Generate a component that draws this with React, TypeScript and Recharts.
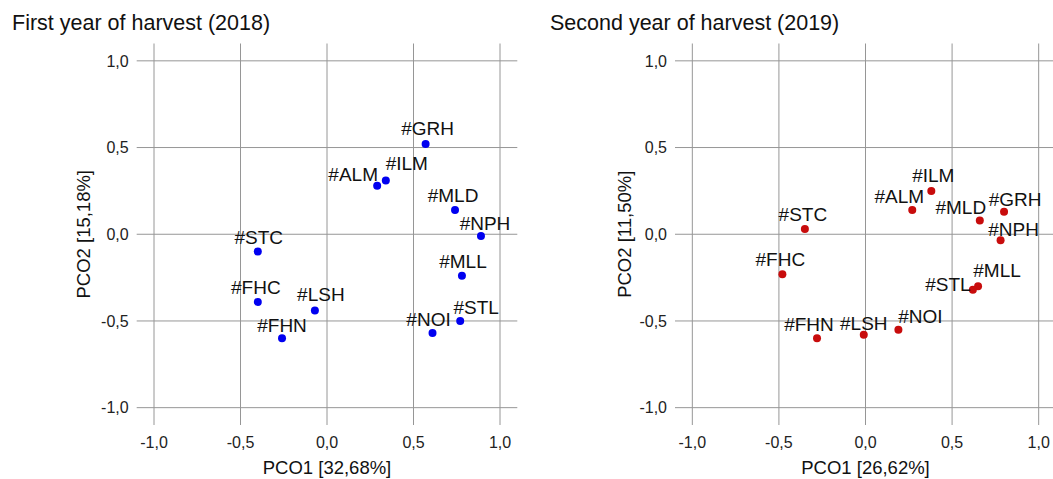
import React from "react";
import { ScatterChart, Scatter, XAxis, YAxis, CartesianGrid } from "recharts";

// PCO scores per site
const names2018 = ["#GRH", "#ILM", "#ALM", "#MLD", "#NPH", "#STC", "#MLL", "#FHC", "#LSH", "#STL", "#FHN", "#NOI"];
const pco1_2018 = [0.57, 0.34, 0.29, 0.74, 0.89, -0.4, 0.78, -0.4, -0.07, 0.77, -0.26, 0.61];
const pco2_2018 = [0.52, 0.31, 0.28, 0.14, -0.01, -0.1, -0.24, -0.39, -0.44, -0.5, -0.6, -0.57];

const names2019 = ["#ILM", "#ALM", "#GRH", "#MLD", "#STC", "#NPH", "#FHC", "#MLL", "#STL", "#NOI", "#LSH", "#FHN"];
const pco1_2019 = [0.38, 0.27, 0.8, 0.66, -0.35, 0.78, -0.48, 0.65, 0.62, 0.19, -0.01, -0.28];
const pco2_2019 = [0.25, 0.14, 0.13, 0.08, 0.03, -0.035, -0.23, -0.3, -0.32, -0.55, -0.58, -0.6];

const axisTicks = [-1, -0.5, 0, 0.5, 1];

// label nudges [dx, dy] so the site names don't collide
const shift2018: Record<string, [number, number]> = {
  "#GRH": [2, -9], "#ILM": [21, -10], "#ALM": [-24, -5], "#MLD": [-2, -8],
  "#NPH": [4, -6], "#STC": [1, -8], "#MLL": [1, -8], "#FHC": [-2, -8],
  "#LSH": [6, -10], "#STL": [16, -7], "#FHN": [0, -6], "#NOI": [-4, -7],
};
const shift2019: Record<string, [number, number]> = {
  "#ILM": [2, -9], "#ALM": [-13, -7], "#GRH": [11, -6], "#MLD": [-19, -6],
  "#STC": [-2, -8], "#NPH": [13, -4], "#FHC": [-2, -8], "#MLL": [19, -9],
  "#STL": [-25, 1], "#NOI": [22, -7], "#LSH": [0, -5], "#FHN": [-8, -7],
};

const FONT = '"Liberation Sans", Arial, sans-serif';
const fmt = (v: number) => v.toFixed(1).replace(".", ",");

const toRows = (names: string[], xs: number[], ys: number[]) =>
  names.map((name, i) => ({ name, x: xs[i], y: ys[i] }));

const makeShape = (color: string, shifts: Record<string, [number, number]>) => (p: any) => {
  const { cx, cy, payload } = p;
  const s = shifts[payload.name] || [0, -8];
  return (
    <g>
      <circle cx={cx} cy={cy} r={4} fill={color} />
      <text x={cx + s[0]} y={cy + s[1]} textAnchor="middle" fontSize={19} fill="#111" fontFamily={FONT}>
        {payload.name}
      </text>
    </g>
  );
};

interface PanelProps {
  data: { name: string; x: number; y: number }[];
  color: string;
  shifts: Record<string, [number, number]>;
  xLabel: string;
  yLabel: string;
  yAxisWidth: number;
  rightMargin: number;
  yLabelGap: number;
}

const Panel: React.FC<PanelProps> = ({ data, color, shifts, xLabel, yLabel, yAxisWidth, rightMargin, yLabelGap }) => (
  <ScatterChart width={530} height={479} margin={{ top: 43.5, right: rightMargin, bottom: 0, left: 0 }}>
    <CartesianGrid stroke="#969696" strokeWidth={1} syncWithTicks />
    <XAxis
      type="number"
      dataKey="x"
      domain={[-1.1, 1.1]}
      ticks={axisTicks}
      tickFormatter={fmt}
      axisLine={false}
      tickLine={false}
      tickMargin={6}
      height={54}
      tick={{ fontSize: 16, fill: "#222", fontFamily: FONT }}
      allowDataOverflow
      label={(p: any) => {
        const vb = p.viewBox;
        return (
          <text x={vb.x + vb.width / 2} y={474} textAnchor="middle" fontSize={18.5} fill="#111" fontFamily={FONT}>
            {xLabel}
          </text>
        );
      }}
    />
    <YAxis
      type="number"
      dataKey="y"
      domain={[-1.1, 1.1]}
      ticks={axisTicks}
      tickFormatter={fmt}
      axisLine={false}
      tickLine={false}
      width={yAxisWidth}
      tick={{ fontSize: 16, fill: "#222", fontFamily: FONT }}
      allowDataOverflow
      label={(p: any) => {
        const vb = p.viewBox;
        const lx = vb.x + vb.width - yLabelGap;
        const ly = vb.y + vb.height / 2;
        return (
          <text x={lx} y={ly} transform={`rotate(-90, ${lx}, ${ly})`} textAnchor="middle" fontSize={18.5} fill="#111" fontFamily={FONT}>
            {yLabel}
          </text>
        );
      }}
    />
    <Scatter data={data} fill={color} shape={makeShape(color, shifts)} isAnimationActive={false} />
  </ScatterChart>
);

export default function App() {
  return (
    <div style={{ position: "fixed", left: 0, top: 0, width: 1053, height: 479, overflow: "hidden", background: "#fff", fontFamily: FONT }}>
      <div style={{ position: "absolute", left: 0, top: 0 }}>
        <Panel
          data={toRows(names2018, pco1_2018, pco2_2018)}
          color="#0000f0"
          shifts={shift2018}
          xLabel="PCO1 [32,68%]"
          yLabel="PCO2 [15,18%]"
          yAxisWidth={136.7}
          rightMargin={12.7}
          yLabelGap={46.5}
        />
      </div>
      <div style={{ position: "absolute", left: 530, top: 0 }}>
        <Panel
          data={toRows(names2019, pco1_2019, pco2_2019)}
          color="#c80c0c"
          shifts={shift2019}
          xLabel="PCO1 [26,62%]"
          yLabel="PCO2 [11,50%]"
          yAxisWidth={145}
          rightMargin={4}
          yLabelGap={44}
        />
      </div>
      <svg width={1053} height={40} style={{ position: "absolute", left: 0, top: 0, pointerEvents: "none" }}>
        <text x={12} y={30} fontSize={21.5} fill="#111" fontFamily={FONT}>First year of harvest (2018)</text>
        <text x={550} y={30} fontSize={21.5} fill="#111" fontFamily={FONT}>Second year of harvest (2019)</text>
      </svg>
    </div>
  );
}
